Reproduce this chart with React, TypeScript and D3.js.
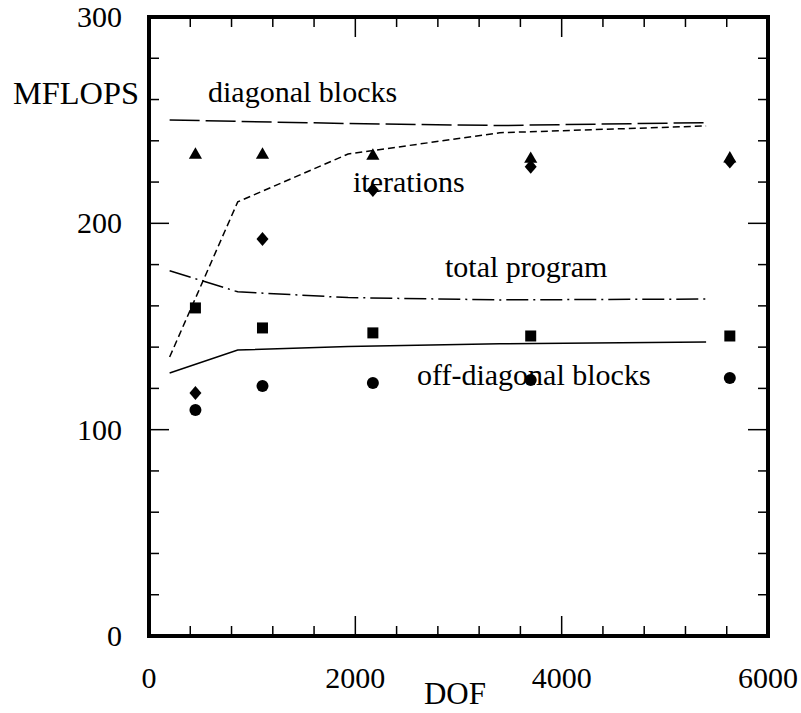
import React from 'react';
import * as d3 from 'd3';

// measured points (markers)
const markerDof = [450, 1100, 2170, 3700, 5630];
const diagonalPts = [232.7, 232.7, 232.2, 230.7, 230.9];
const iterationPts = [117.8, 192.4, 216.2, 227.4, 230.0];
const totalPts = [159.0, 149.3, 146.9, 145.4, 145.4];
const offDiagPts = [109.5, 121.2, 122.6, 124.1, 125.0];

// model curves
const curveDof = [200, 860, 1930, 3400, 5400];
const diagonalCurve = [250.1, 249.4, 248.4, 247.4, 248.8];
const iterationCurve = [135.2, 210.4, 233.6, 243.9, 247.2];
const totalCurve = [177.0, 166.8, 164.0, 162.9, 163.3];
const offDiagCurve = [127.5, 138.6, 140.3, 141.6, 142.5];

const xTicks = [0, 2000, 4000, 6000];
const yTicks = [0, 100, 200, 300];

const W = 801;
const H = 713;
const left = 149, right = 768, top = 17, bottom = 636;
const font = '"Liberation Serif", "Times New Roman", serif';

const x = d3.scaleLinear().domain([0, 6000]).range([left, right]);
const y = d3.scaleLinear().domain([0, 300]).range([bottom, top]);

const line = d3.line<number>()
  .x((_, i) => x(curveDof[i]))
  .y(d => y(d));

const triangle = d3.symbol().type(d3.symbolTriangle).size(75)()!;
const diamond = 'M0,-7L6,0L0,7L-6,0Z';

export default function App() {
  const xMinor = d3.range(0, 6001, 400);
  const yMinor = d3.range(0, 301, 20);

  return (
    <svg width={W} height={H} style={{ position: 'absolute', left: 0, top: 0, background: '#fff' }}>
      {/* ticks */}
      <g stroke="#000" strokeWidth={1.5}>
        {xMinor.map(v => {
          const len = v % 2000 === 0 ? 20 : 10;
          return (
            <g key={'x' + v}>
              <line x1={x(v)} x2={x(v)} y1={bottom} y2={bottom - len} />
              <line x1={x(v)} x2={x(v)} y1={top} y2={top + len} />
            </g>
          );
        })}
        {yMinor.map(v => {
          const len = v % 100 === 0 ? 20 : 10;
          return (
            <g key={'y' + v}>
              <line x1={left} x2={left + len} y1={y(v)} y2={y(v)} />
              <line x1={right} x2={right - len} y1={y(v)} y2={y(v)} />
            </g>
          );
        })}
      </g>
      <rect x={left} y={top} width={right - left} height={bottom - top}
        fill="none" stroke="#000" strokeWidth={4} />

      {/* tick labels */}
      <g fontFamily={font} fontSize={30} fill="#000">
        {xTicks.map(v => (
          <text key={v} x={x(v)} y={688} textAnchor="middle">{v}</text>
        ))}
        {yTicks.map(v => (
          <text key={v} x={122} y={y(v) + 10} textAnchor="end">{v}</text>
        ))}
      </g>
      <g fontFamily={font} fontSize={31} fill="#000">
        <text x={139} y={104} textAnchor="end" textLength={126} lengthAdjust="spacingAndGlyphs">MFLOPS</text>
        <text x={455} y={704} textAnchor="middle">DOF</text>
      </g>

      {/* curves */}
      <g fill="none" stroke="#000" strokeWidth={1.5}>
        <path d={line(diagonalCurve)!} strokeDasharray="30 6" />
        <path d={line(iterationCurve)!} strokeDasharray="7 4" />
        <path d={line(totalCurve)!} strokeDasharray="22 5 2 5" />
        <path d={line(offDiagCurve)!} />
      </g>

      {/* markers */}
      <g fill="#000">
        {markerDof.map((d, i) => (
          <g key={'m' + i}>
            <path d={triangle} transform={`translate(${x(d)},${y(diagonalPts[i]) - 1})`} />
            <path d={diamond} transform={`translate(${x(d)},${y(iterationPts[i])})`} />
            <rect x={x(d) - 5.5} y={y(totalPts[i]) - 5.5} width={11} height={11} />
            <circle cx={x(d)} cy={y(offDiagPts[i])} r={6} />
          </g>
        ))}
      </g>

      {/* curve labels */}
      <g fontFamily={font} fontSize={30} fill="#000">
        <text x={208} y={102}>diagonal blocks</text>
        <text x={353} y={192}>iterations</text>
        <text x={445} y={277}>total program</text>
        <text x={417} y={385}>off-diagonal blocks</text>
      </g>
    </svg>
  );
}
